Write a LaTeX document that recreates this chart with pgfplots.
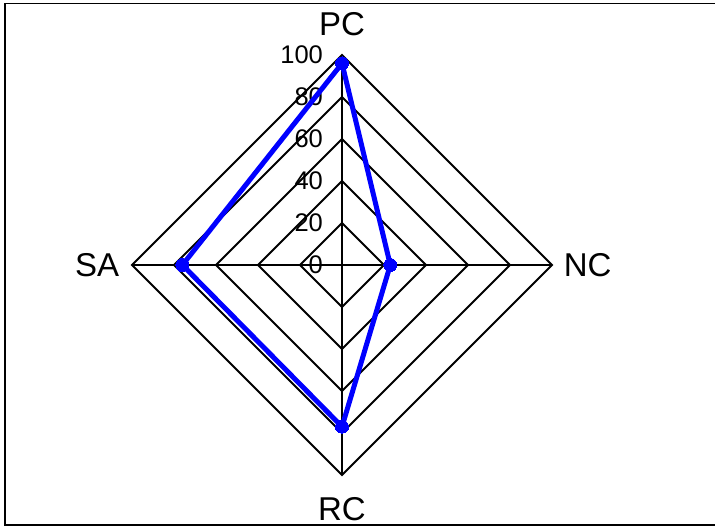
\documentclass[border=0pt]{standalone}
\usepackage{pgfplots}
\pgfplotsset{compat=1.18}
\usepackage{fontspec}
\setmainfont{Liberation Sans}
\begin{document}
\begin{tikzpicture}[x=1pt,y=1pt]
\useasboundingbox (0,0) rectangle (715,527);
\draw[line width=1.6pt] (715,523.5) -- (5,523.5) -- (5,2) -- (715,2);
\begin{axis}[
  scale only axis, width=420pt, height=420pt,
  xmin=-100, xmax=100, ymin=-100, ymax=100,
  hide axis, clip=false,
  at={(342pt,262pt)}, anchor=center,
]
\pgfplotsinvokeforeach{20,40,60,80,100}{
  \draw[black, line width=1.9pt, line join=miter] (axis cs:0,#1) -- (axis cs:#1,0) -- (axis cs:0,-#1) -- (axis cs:-#1,0) -- cycle;
}
\draw[black, line width=1.9pt] (axis cs:0,-100) -- (axis cs:0,100);
\draw[black, line width=1.9pt] (axis cs:-100,0) -- (axis cs:100,0);
\pgfplotsinvokeforeach{0,20,40,60,80,100}{
  \node[anchor=east, inner sep=0pt, font=\fontsize{25.5}{28}\selectfont] at (axis cs:-9,#1) {#1};
}
\node[anchor=base, inner sep=0pt, font=\fontsize{33}{36}\selectfont] at (axis cs:0,109.5) {PC};
\node[anchor=base, inner sep=0pt, font=\fontsize{33}{36}\selectfont] at (axis cs:0,-121.5) {RC};
\node[anchor=west, inner sep=0pt, font=\fontsize{33}{36}\selectfont] at (axis cs:105.5,0) {NC};
\node[anchor=east, inner sep=0pt, font=\fontsize{33}{36}\selectfont] at (axis cs:-106,0) {SA};
\addplot[color={rgb,255:red,0;green,0;blue,255}, line width=5pt, line join=round,
  mark=*, mark size=6.5pt, mark options={line width=0pt, fill={rgb,255:red,0;green,0;blue,255}}]
  coordinates {(0,96) (23,0) (0,-77) (-76,0) (0,96)};
\end{axis}
\end{tikzpicture}
\end{document}
